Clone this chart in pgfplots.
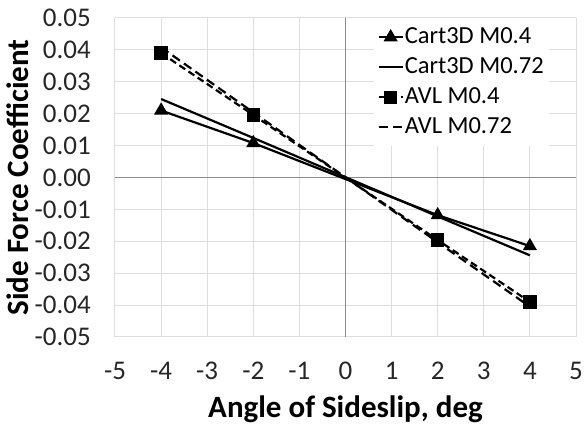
\documentclass[border=0pt]{standalone}
\usepackage{fontspec}
\setmainfont{Carlito}
\usepackage{pgfplots}
\pgfplotsset{compat=1.18}

\begin{document}
\begin{tikzpicture}[x=1pt,y=1pt]
\begin{axis}[
    at={(0,0)}, anchor=south west,
    scale only axis,
    width=461pt, height=319pt,
    xmin=-5, xmax=5, ymin=-0.05, ymax=0.05,
    xtick={-5,...,5},
    ytick={-0.05,-0.04,...,0.05},
    scaled y ticks=false,
    y tick label style={/pgf/number format/fixed, /pgf/number format/fixed zerofill, /pgf/number format/precision=2},
    /pgf/number format/assume math mode=true,
    ticklabel style={font=\fontsize{27}{30}\selectfont, text=black!85},
    xticklabel style={anchor=center, yshift=-34pt},
    yticklabel style={anchor=east, inner sep=0pt, xshift=-24pt},
    major tick length=0pt,
    axis line style={draw=none},
    grid=major,
    major grid style={draw=black!13, line width=1pt},
    extra x ticks={0}, extra y ticks={0},
    extra x tick labels={}, extra y tick labels={},
    extra tick style={major grid style={draw=black!45, line width=1pt}},
    xlabel={\textbf{Angle of Sideslip, deg}},
    ylabel={\textbf{Side Force Coefficient}},
    label style={font=\fontsize{31}{34}\selectfont},
    xlabel style={at={(rel axis cs:0.5,0)}, anchor=center, yshift=-72pt},
    ylabel style={at={(rel axis cs:0,0.5)}, anchor=center, yshift=97pt},
    legend style={at={(rel axis cs:0.976,1.0)}, anchor=north east, xshift=-16pt,
        draw=none, fill=white, inner sep=4pt,
        font=\fontsize{24.5}{27}\selectfont, row sep=0pt,
        nodes={inner sep=1pt, text height=20pt, text depth=8pt},
        /tikz/every even column/.append style={column sep=0pt}},
    legend cell align=left,
    legend image code/.code={
        \draw[mark repeat=2,mark phase=2] plot coordinates {(0pt,0pt) (12pt,0pt) (24pt,0pt)};},
    clip=false,
]
\addplot[black, line width=2.2pt, mark=triangle*, mark size=6pt, mark options={solid}]
    coordinates {(-4,0.021) (-2,0.0108) (2,-0.0118) (4,-0.0215)};
\addlegendentry{Cart3D M0.4}
\addplot[black, line width=2.2pt]
    coordinates {(-4,0.0246) (-2,0.0124) (2,-0.0122) (4,-0.0244)};
\addlegendentry{Cart3D M0.72}
\addplot[black, line width=2.2pt, dash pattern=on 7pt off 4pt, mark=square*, mark size=5.5pt, mark options={solid}]
    coordinates {(-4,0.039) (-2,0.0196) (2,-0.0196) (4,-0.039)};
\addlegendentry{AVL M0.4}
\addplot[black, line width=2.2pt, dash pattern=on 9pt off 5pt]
    coordinates {(-4,0.0408) (-2,0.0204) (2,-0.0203) (4,-0.0405)};
\addlegendentry{AVL M0.72}
\end{axis}
% fix the page to the 584x425 layout
\pgfresetboundingbox
\path (-115,-88) rectangle (469,337);
\end{tikzpicture}
\end{document}
